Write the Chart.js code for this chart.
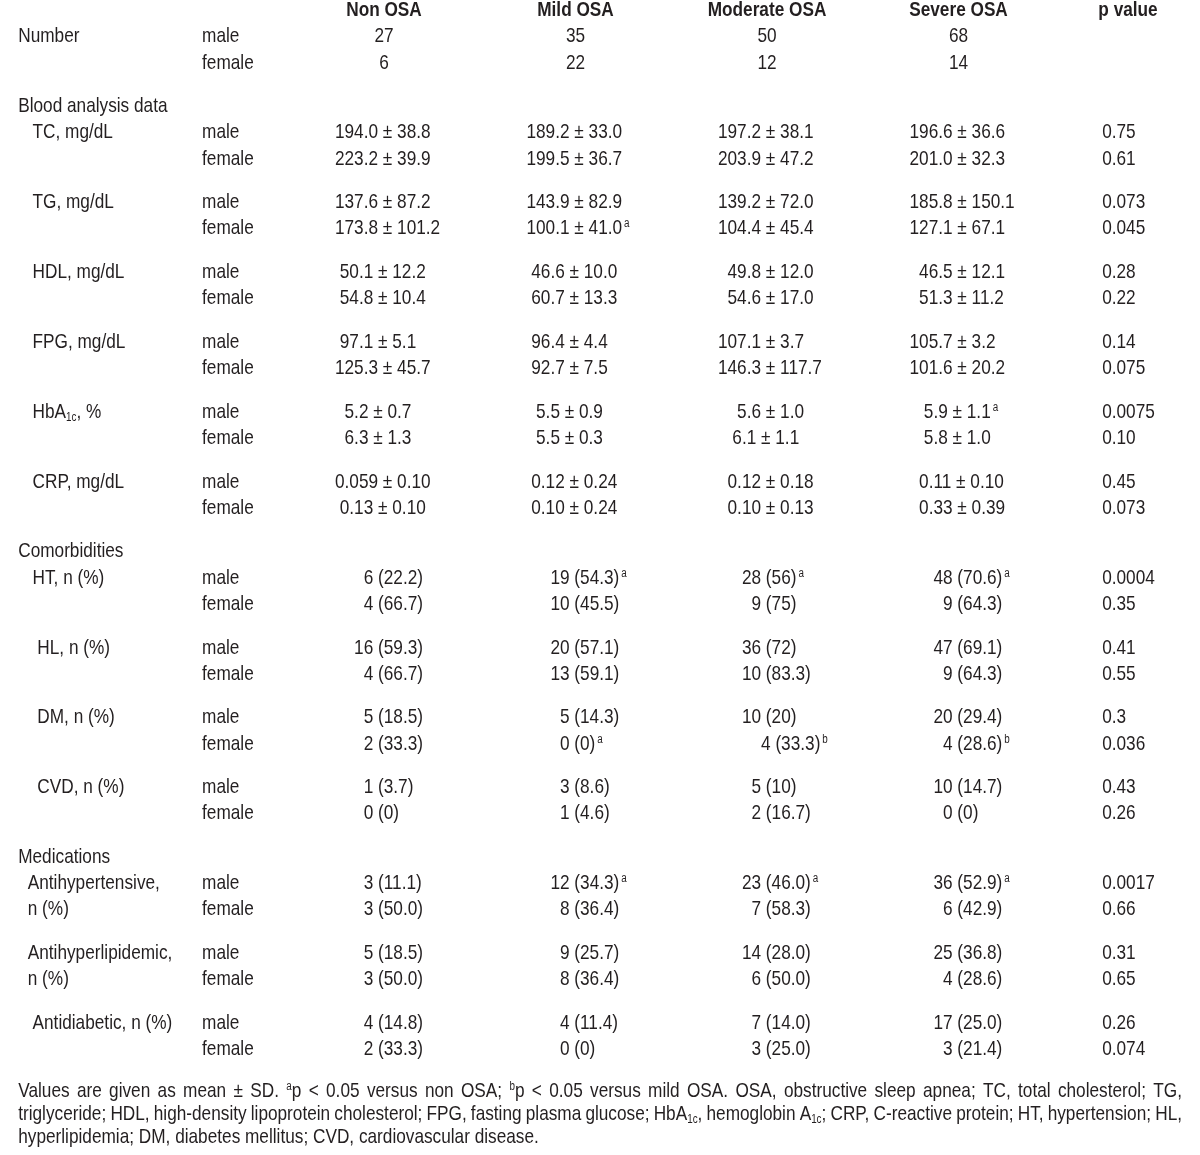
<!DOCTYPE html>
<html>
<head>
<meta charset="utf-8">
<script src="https://cdn.jsdelivr.net/npm/chart.js@4.4.1/dist/chart.umd.min.js"></script>
<style>
  html, body { margin: 0; background: #fff; }
  #wrap { width: 1200px; height: 1155px; position: relative; }
</style>
</head>
<body>
<div id="wrap"><canvas id="osaTable"></canvas></div>
<script>
// column headers
var groups = ["Non OSA", "Mild OSA", "Moderate OSA", "Severe OSA"];
var pHeader = "p value";

// cell texts, one array per row (Non, Mild, Moderate, Severe)
var numberMale = ["27", "35", "50", "68"];
var numberFemale = ["6", "22", "12", "14"];

var tcMale = ["194.0 ± 38.8", "189.2 ± 33.0", "197.2 ± 38.1", "196.6 ± 36.6"];
var tcFemale = ["223.2 ± 39.9", "199.5 ± 36.7", "203.9 ± 47.2", "201.0 ± 32.3"];
var tcP = ["0.75", "0.61"];

var tgMale = ["137.6 ± 87.2", "143.9 ± 82.9", "139.2 ± 72.0", "185.8 ± 150.1"];
var tgFemale = ["173.8 ± 101.2", "100.1 ± 41.0^a", "104.4 ± 45.4", "127.1 ± 67.1"];
var tgP = ["0.073", "0.045"];

var hdlMale = [" 50.1 ± 12.2", " 46.6 ± 10.0", "  49.8 ± 12.0", "  46.5 ± 12.1"];
var hdlFemale = [" 54.8 ± 10.4", " 60.7 ± 13.3", "  54.6 ± 17.0", "  51.3 ± 11.2"];
var hdlP = ["0.28", "0.22"];

var fpgMale = [" 97.1 ± 5.1", " 96.4 ± 4.4", "107.1 ± 3.7", "105.7 ± 3.2"];
var fpgFemale = ["125.3 ± 45.7", " 92.7 ± 7.5", "146.3 ± 117.7", "101.6 ± 20.2"];
var fpgP = ["0.14", "0.075"];

var hbaMale = ["  5.2 ± 0.7", "  5.5 ± 0.9", "    5.6 ± 1.0", "   5.9 ± 1.1^a"];
var hbaFemale = ["  6.3 ± 1.3", "  5.5 ± 0.3", "   6.1 ± 1.1", "   5.8 ± 1.0"];
var hbaP = ["0.0075", "0.10"];

var crpMale = ["0.059 ± 0.10", " 0.12 ± 0.24", "  0.12 ± 0.18", "  0.11 ± 0.10"];
var crpFemale = [" 0.13 ± 0.10", " 0.10 ± 0.24", "  0.10 ± 0.13", "  0.33 ± 0.39"];
var crpP = ["0.45", "0.073"];

var htMale = ["      6 (22.2)", "     19 (54.3)^a", "     28 (56)^a", "     48 (70.6)^a"];
var htFemale = ["      4 (66.7)", "     10 (45.5)", "       9 (75)", "       9 (64.3)"];
var htP = ["0.0004", "0.35"];

var hlMale = ["    16 (59.3)", "     20 (57.1)", "     36 (72)", "     47 (69.1)"];
var hlFemale = ["      4 (66.7)", "     13 (59.1)", "     10 (83.3)", "       9 (64.3)"];
var hlP = ["0.41", "0.55"];

var dmMale = ["      5 (18.5)", "       5 (14.3)", "     10 (20)", "     20 (29.4)"];
var dmFemale = ["      2 (33.3)", "       0 (0)^a", "         4 (33.3)^b", "       4 (28.6)^b"];
var dmP = ["0.3", "0.036"];

var cvdMale = ["      1 (3.7)", "       3 (8.6)", "       5 (10)", "     10 (14.7)"];
var cvdFemale = ["      0 (0)", "       1 (4.6)", "       2 (16.7)", "       0 (0)"];
var cvdP = ["0.43", "0.26"];

var antiHtMale = ["      3 (11.1)", "     12 (34.3)^a", "     23 (46.0)^a", "     36 (52.9)^a"];
var antiHtFemale = ["      3 (50.0)", "       8 (36.4)", "       7 (58.3)", "       6 (42.9)"];
var antiHtP = ["0.0017", "0.66"];

var antiHlMale = ["      5 (18.5)", "       9 (25.7)", "     14 (28.0)", "     25 (36.8)"];
var antiHlFemale = ["      3 (50.0)", "       8 (36.4)", "       6 (50.0)", "       4 (28.6)"];
var antiHlP = ["0.31", "0.65"];

var antiDmMale = ["      4 (14.8)", "       4 (11.4)", "       7 (14.0)", "     17 (25.0)"];
var antiDmFemale = ["      2 (33.3)", "       0 (0)", "       3 (25.0)", "       3 (21.4)"];
var antiDmP = ["0.26", "0.074"];

var footnote = [
    "Values are given as mean ± SD. ^ap < 0.05 versus non OSA; ^bp < 0.05 versus mild OSA. OSA, obstructive sleep apnea; TC, total cholesterol; TG,",
    "triglyceride; HDL, high-density lipoprotein cholesterol; FPG, fasting plasma glucose; HbA_{1c}, hemoglobin A_{1c}; CRP, C-reactive protein; HT, hypertension; HL,",
    "hyperlipidemia; DM, diabetes mellitus; CVD, cardiovascular disease."
];

var sections = [
    { title: null, items: [
        { name: ["Number", ""], male: numberMale, female: numberFemale, p: ["", ""], center: true }
    ]},
    { title: "Blood analysis data", items: [
        { name: ["   TC, mg/dL", ""], male: tcMale, female: tcFemale, p: tcP },
        { name: ["   TG, mg/dL", ""], male: tgMale, female: tgFemale, p: tgP },
        { name: ["   HDL, mg/dL", ""], male: hdlMale, female: hdlFemale, p: hdlP },
        { name: ["   FPG, mg/dL", ""], male: fpgMale, female: fpgFemale, p: fpgP },
        { name: ["   HbA_{1c}, %", ""], male: hbaMale, female: hbaFemale, p: hbaP },
        { name: ["   CRP, mg/dL", ""], male: crpMale, female: crpFemale, p: crpP }
    ]},
    { title: "Comorbidities", items: [
        { name: ["   HT, n (%)", ""], male: htMale, female: htFemale, p: htP },
        { name: ["    HL, n (%)", ""], male: hlMale, female: hlFemale, p: hlP },
        { name: ["    DM, n (%)", ""], male: dmMale, female: dmFemale, p: dmP },
        { name: ["    CVD, n (%)", ""], male: cvdMale, female: cvdFemale, p: cvdP }
    ]},
    { title: "Medications", items: [
        { name: ["  Antihypertensive,", "  n (%)"], male: antiHtMale, female: antiHtFemale, p: antiHtP },
        { name: ["  Antihyperlipidemic,", "  n (%)"], male: antiHlMale, female: antiHlFemale, p: antiHlP },
        { name: ["   Antidiabetic, n (%)", ""], male: antiDmMale, female: antiDmFemale, p: antiDmP }
    ]}
];

// layout (x in column steps, y in row units)
var COL = { label: -1.91, sex: -0.95, cellLeft: -0.256, p: 3.885, pLeft: 3.75, right: 4.167 };
var FS = 21;
var INK = "#231f20";

// narrow font if installed, else squeeze the regular one
var narrow = (function () {
    var c = document.createElement("canvas").getContext("2d");
    c.font = '40px "Liberation Sans Narrow", monospace';
    var a = c.measureText("abcdefghijklmnop").width;
    c.font = "40px monospace";
    var b = c.measureText("abcdefghijklmnop").width;
    return Math.abs(a - b) > 0.5;
})();
var FAMILY = narrow ? '"Liberation Sans Narrow", "Arial Narrow", sans-serif' : '"Liberation Sans", Arial, sans-serif';
var SX = narrow ? 1 : 0.82;

function parseRich(s) {
    var re = /\^\{([^}]*)\}|\^(\S)|_\{([^}]*)\}|([^\^_]+)/g, m, out = [];
    while ((m = re.exec(s)) !== null) {
        if (m[1] !== undefined) out.push({ t: m[1], k: "sup" });
        else if (m[2] !== undefined) out.push({ t: m[2], k: "sup" });
        else if (m[3] !== undefined) out.push({ t: m[3], k: "sub" });
        else out.push({ t: m[4], k: "n" });
    }
    return out;
}

function segFont(k, bold) {
    var px = k === "n" ? FS : 12;
    return (bold ? "bold " : "") + px + "px " + FAMILY;
}

function richWidth(ctx, s, bold) {
    var w = 0;
    parseRich(s).forEach(function (seg, i) {
        ctx.font = segFont(seg.k, bold);
        if (seg.k === "sup" && i > 0) w += 2;
        w += ctx.measureText(seg.t).width * SX;
    });
    return w;
}

function drawRich(ctx, s, x, base, align, bold) {
    var w = richWidth(ctx, s, bold);
    var cx = align === "center" ? x - w / 2 : x;
    ctx.fillStyle = INK;
    ctx.textBaseline = "alphabetic";
    ctx.textAlign = "left";
    parseRich(s).forEach(function (seg, i) {
        ctx.font = segFont(seg.k, bold);
        if (seg.k === "sup" && i > 0) cx += 2;
        var dy = seg.k === "sup" ? -7 : (seg.k === "sub" ? 3 : 0);
        ctx.save();
        ctx.translate(cx, base + dy);
        ctx.scale(SX, 1);
        ctx.fillText(seg.t, 0, 0);
        ctx.restore();
        cx += ctx.measureText(seg.t).width * SX;
    });
}

// build cell points
var labelCells = [], sexCells = [], pCells = [], headCells = [];
var groupCells = groups.map(function () { return []; });

groups.forEach(function (g, i) {
    headCells.push({ x: i, y: 0, text: g, align: "center" });
});
headCells.push({ x: COL.p, y: 0, text: pHeader, align: "center" });

var u = 0, prev = "header";
sections.forEach(function (sec) {
    if (sec.title) {
        u += 5;
        labelCells.push({ x: COL.label, y: u, text: sec.title });
        prev = "title";
    }
    sec.items.forEach(function (item) {
        u += (prev === "header" || prev === "title") ? 3 : 5;
        [item.male, item.female].forEach(function (vals, k) {
            var y = u + k * 3;
            if (item.name[k]) labelCells.push({ x: COL.label, y: y, text: item.name[k] });
            sexCells.push({ x: COL.sex, y: y, text: k === 0 ? "male" : "female" });
            vals.forEach(function (v, gi) {
                groupCells[gi].push(item.center
                    ? { x: gi, y: y, text: v, align: "center" }
                    : { x: gi + COL.cellLeft, y: y, text: v });
            });
            if (item.p[k]) pCells.push({ x: COL.pLeft, y: y, text: item.p[k] });
        });
        u += 3;
        prev = "item";
    });
});
var footU = u + 4.8;

function cellSet(name, data, bold) {
    return { label: name, data: data, bold: !!bold, pointRadius: 0, pointHoverRadius: 0 };
}

var datasets = [cellSet("header", headCells, true), cellSet("labels", labelCells), cellSet("sex", sexCells)]
    .concat(groups.map(function (g, i) { return cellSet(g, groupCells[i]); }))
    .concat([cellSet(pHeader, pCells)]);

var cellText = {
    id: "cellText",
    afterDatasetsDraw: function (chart) {
        var ctx = chart.ctx;
        chart.data.datasets.forEach(function (ds, di) {
            var meta = chart.getDatasetMeta(di);
            meta.data.forEach(function (pt, i) {
                var cell = ds.data[i];
                drawRich(ctx, cell.text, pt.x, pt.y + FS * 0.36, cell.align || "left", ds.bold);
            });
        });
        // footnote, justified except the last line
        var xs = chart.scales.x, ys = chart.scales.y;
        var left = xs.getPixelForValue(COL.label), right = xs.getPixelForValue(COL.right);
        footnote.forEach(function (line, li) {
            var base = ys.getPixelForValue(footU) + li * 23 + FS * 0.36;
            var words = line.split(" ");
            var widths = words.map(function (w) { return richWidth(ctx, w, false); });
            var total = widths.reduce(function (a, b) { return a + b; }, 0);
            ctx.font = segFont("n", false);
            var gap = li < footnote.length - 1 ? (right - left - total) / (words.length - 1) : ctx.measureText(" ").width * SX;
            var cx = left;
            words.forEach(function (w, wi) {
                drawRich(ctx, w, cx, base, "left", false);
                cx += widths[wi] + gap;
            });
        });
    }
};

new Chart("osaTable", {
    type: "scatter",
    data: { datasets: datasets },
    options: {
        responsive: true,
        maintainAspectRatio: false,
        animation: false,
        events: [],
        layout: { padding: 0 },
        plugins: { legend: { display: false }, tooltip: { enabled: false } },
        scales: {
            x: { type: "linear", display: false, min: -2.005, max: 4.261 },
            y: { type: "linear", display: false, reverse: true, min: -0.98, max: 131.3 }
        }
    },
    plugins: [cellText]
});
</script>
</body>
</html>
